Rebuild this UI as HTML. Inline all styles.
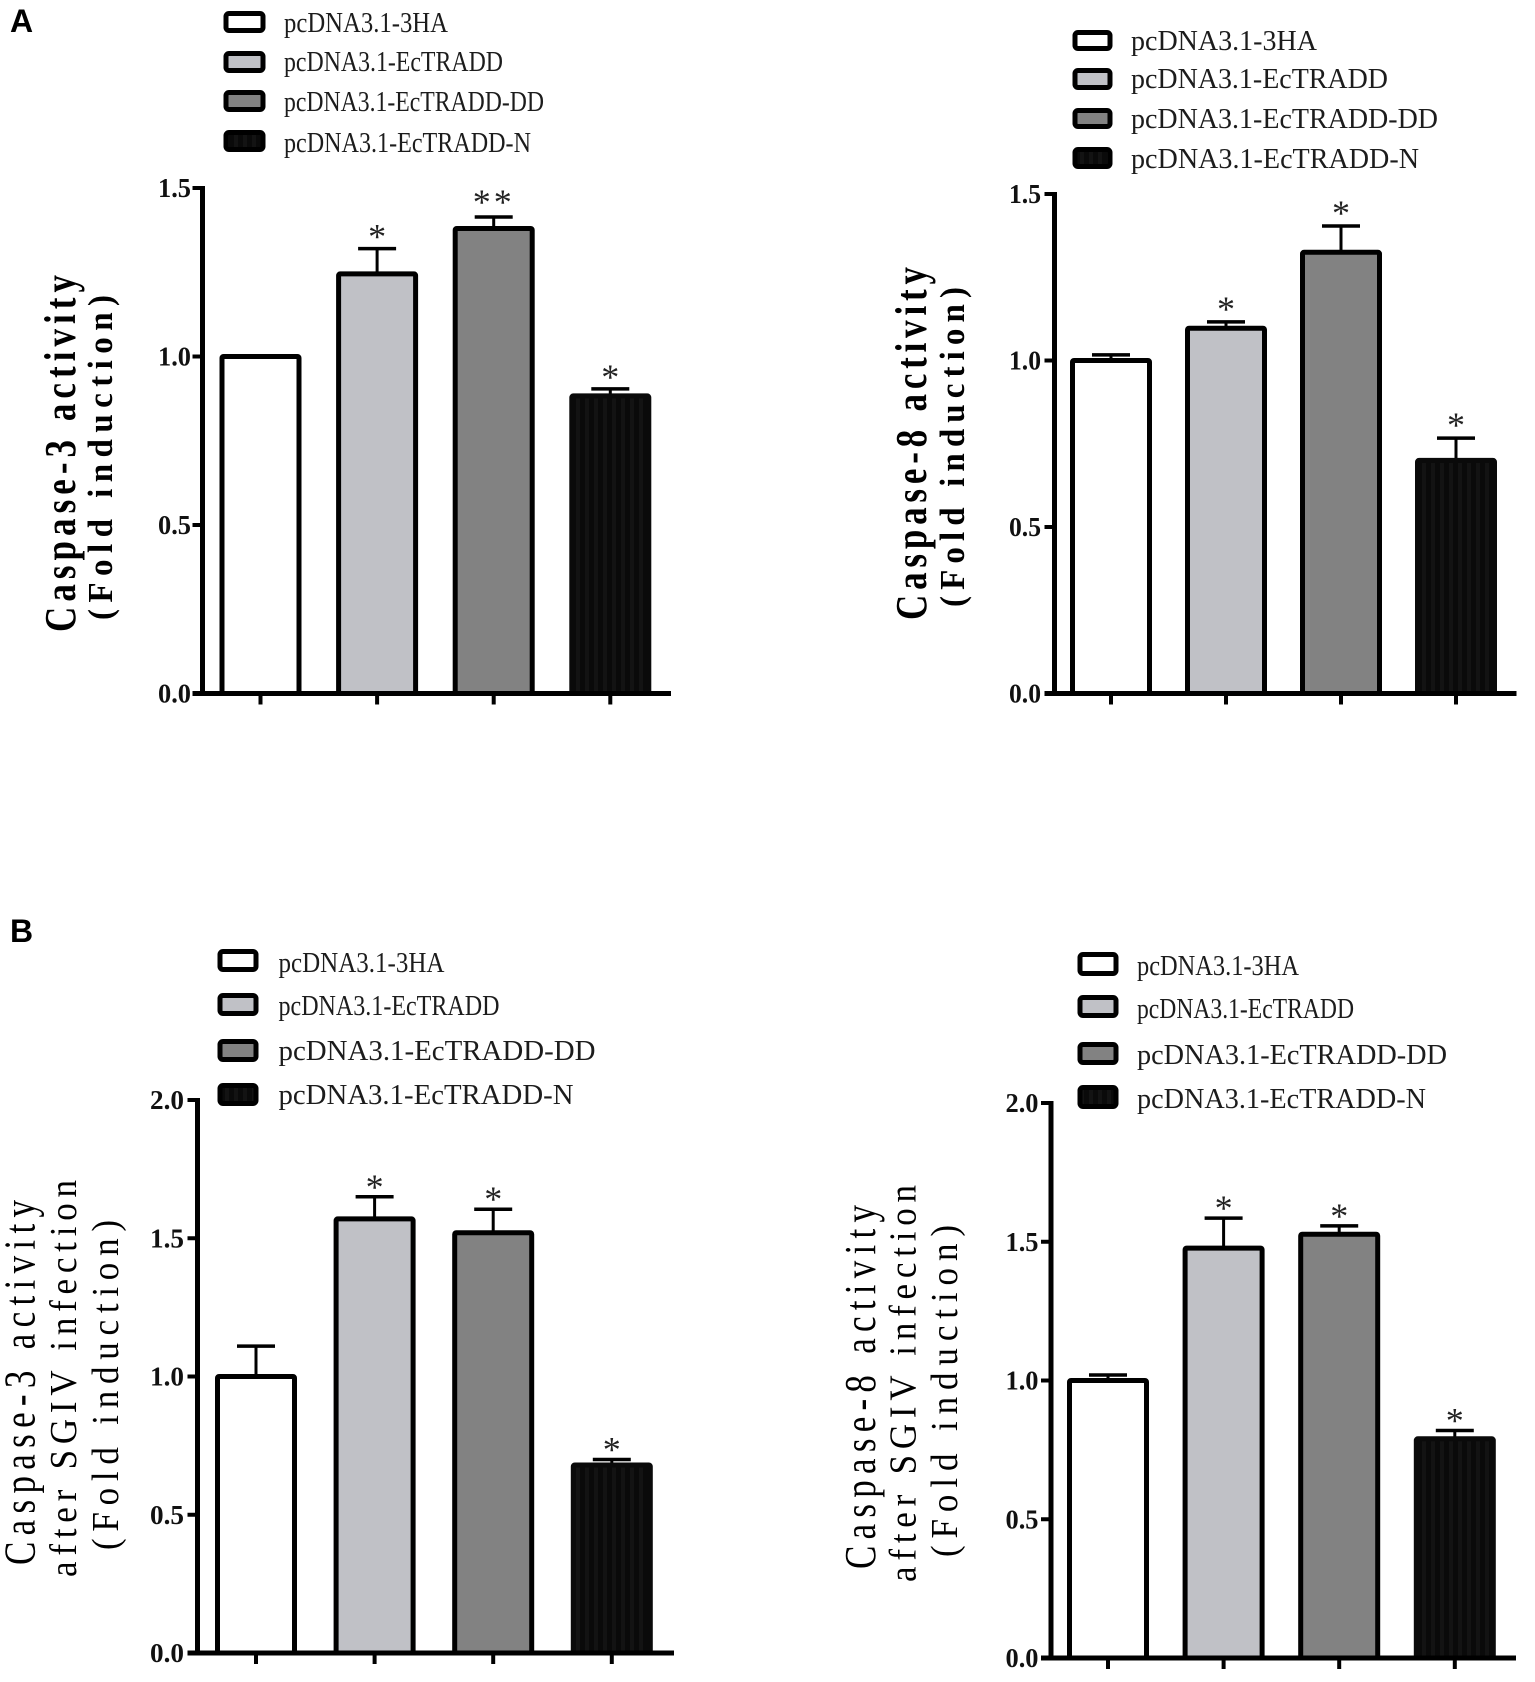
<!DOCTYPE html>
<html lang="en">
<head>
<meta charset="utf-8">
<title>Caspase-3 and Caspase-8 activity</title>
<style>
html,body{margin:0;padding:0;background:#fff;width:1535px;height:1682px;overflow:hidden}
svg{display:block}
text{font-family:"Liberation Serif",serif;fill:#000}
.leg{font-size:29px;fill:#1c1c1c}
.t1{font-size:35px}
.t2{font-size:33px}
.t3{font-size:35px}
.b{font-weight:bold}
.panel{font-family:"Liberation Sans",sans-serif;font-size:32px;font-weight:bold}
.tick{font-size:27px;font-weight:bold;fill:#111}
.star{font-size:36px;fill:#222}
</style>
</head>
<body>
<svg id="figure" xmlns="http://www.w3.org/2000/svg" width="1535" height="1682" viewBox="0 0 1535 1682">
<defs>
<pattern id="stripes" width="9" height="10" patternUnits="userSpaceOnUse">
<rect width="9" height="10" fill="#0a0a0a"></rect>
<rect width="4" height="10" fill="#131313"></rect>
</pattern>
</defs>
<rect width="1535" height="1682" fill="#ffffff"></rect>

<text class="panel" x="10" y="32">A</text>
<text class="panel" x="10" y="942">B</text>

<g>
<rect x="226" y="13.500" width="37" height="17" rx="3" fill="#fff" stroke="#000" stroke-width="5"></rect>
<rect x="226" y="53.500" width="37" height="17" rx="3" fill="#c0c1c6" stroke="#000" stroke-width="5"></rect>
<rect x="226" y="92.500" width="37" height="17" rx="3" fill="#828282" stroke="#000" stroke-width="5"></rect>
<rect x="226" y="132.500" width="37" height="17" rx="3" fill="url(#stripes)" stroke="#000" stroke-width="5"></rect>
<text class="leg" x="284" y="32" textLength="164" lengthAdjust="spacingAndGlyphs">pcDNA3.1-3HA</text>
<text class="leg" x="284" y="71" textLength="219" lengthAdjust="spacingAndGlyphs">pcDNA3.1-EcTRADD</text>
<text class="leg" x="284" y="111" textLength="260" lengthAdjust="spacingAndGlyphs">pcDNA3.1-EcTRADD-DD</text>
<text class="leg" x="284" y="152" textLength="247" lengthAdjust="spacingAndGlyphs">pcDNA3.1-EcTRADD-N</text>
</g>

<g>
<rect x="1075" y="32.500" width="35" height="16" rx="3" fill="#fff" stroke="#000" stroke-width="5"></rect>
<rect x="1075" y="70.500" width="35" height="17" rx="3" fill="#c0c1c6" stroke="#000" stroke-width="5"></rect>
<rect x="1075" y="110.500" width="35" height="16" rx="3" fill="#828282" stroke="#000" stroke-width="5"></rect>
<rect x="1075" y="149.500" width="35" height="17" rx="3" fill="url(#stripes)" stroke="#000" stroke-width="5"></rect>
<text class="leg" x="1131" y="50" textLength="186" lengthAdjust="spacingAndGlyphs">pcDNA3.1-3HA</text>
<text class="leg" x="1131" y="88" textLength="257" lengthAdjust="spacingAndGlyphs">pcDNA3.1-EcTRADD</text>
<text class="leg" x="1131" y="128" textLength="307" lengthAdjust="spacingAndGlyphs">pcDNA3.1-EcTRADD-DD</text>
<text class="leg" x="1131" y="168" textLength="288" lengthAdjust="spacingAndGlyphs">pcDNA3.1-EcTRADD-N</text>
</g>

<g>
<rect x="220" y="951.500" width="36" height="18" rx="3" fill="#fff" stroke="#000" stroke-width="5"></rect>
<rect x="220" y="995.500" width="36" height="18" rx="3" fill="#c0c1c6" stroke="#000" stroke-width="5"></rect>
<rect x="220" y="1041.500" width="36" height="18" rx="3" fill="#828282" stroke="#000" stroke-width="5"></rect>
<rect x="220" y="1085.500" width="36" height="18" rx="3" fill="url(#stripes)" stroke="#000" stroke-width="5"></rect>
<text class="leg" x="278.500" y="972" textLength="166" lengthAdjust="spacingAndGlyphs">pcDNA3.1-3HA</text>
<text class="leg" x="278.500" y="1015" textLength="221" lengthAdjust="spacingAndGlyphs">pcDNA3.1-EcTRADD</text>
<text class="leg" x="278.500" y="1060" textLength="317" lengthAdjust="spacingAndGlyphs">pcDNA3.1-EcTRADD-DD</text>
<text class="leg" x="278.500" y="1104" textLength="295" lengthAdjust="spacingAndGlyphs">pcDNA3.1-EcTRADD-N</text>
</g>

<g>
<rect x="1080" y="954.500" width="36" height="19" rx="3" fill="#fff" stroke="#000" stroke-width="5"></rect>
<rect x="1080" y="997.500" width="36" height="18" rx="3" fill="#c0c1c6" stroke="#000" stroke-width="5"></rect>
<rect x="1080" y="1044.500" width="36" height="18" rx="3" fill="#828282" stroke="#000" stroke-width="5"></rect>
<rect x="1080" y="1087.500" width="36" height="19" rx="3" fill="url(#stripes)" stroke="#000" stroke-width="5"></rect>
<text class="leg" x="1137" y="975" textLength="162" lengthAdjust="spacingAndGlyphs">pcDNA3.1-3HA</text>
<text class="leg" x="1137" y="1018" textLength="217" lengthAdjust="spacingAndGlyphs">pcDNA3.1-EcTRADD</text>
<text class="leg" x="1137" y="1064" textLength="310" lengthAdjust="spacingAndGlyphs">pcDNA3.1-EcTRADD-DD</text>
<text class="leg" x="1137" y="1108" textLength="289" lengthAdjust="spacingAndGlyphs">pcDNA3.1-EcTRADD-N</text>
</g>

<text class="t1 b" transform="translate(75,632) rotate(-90) scale(1,1.26)" textLength="357" lengthAdjust="spacing">Caspase-3 activity</text>
<text class="t2 b" transform="translate(112,620) rotate(-90) scale(1,1.06)" textLength="325" lengthAdjust="spacing">(Fold induction)</text>

<text class="t1 b" transform="translate(926,620) rotate(-90) scale(1,1.26)" textLength="353" lengthAdjust="spacing">Caspase-8 activity</text>
<text class="t2 b" transform="translate(964,607) rotate(-90) scale(1,1.06)" textLength="320" lengthAdjust="spacing">(Fold induction)</text>

<text class="t1" transform="translate(34.500,1565) rotate(-90) scale(1,1.26)" textLength="365" lengthAdjust="spacing">Caspase-3 activity</text>
<text class="t3" transform="translate(76,1577) rotate(-90) scale(1,1.08)" textLength="397" lengthAdjust="spacing">after SGIV infection</text>
<text class="t3" transform="translate(118,1550) rotate(-90) scale(1,1.08)" textLength="330" lengthAdjust="spacing">(Fold induction)</text>

<text class="t1" transform="translate(875,1569) rotate(-90) scale(1,1.26)" textLength="364" lengthAdjust="spacing">Caspase-8 activity</text>
<text class="t3" transform="translate(915.500,1582) rotate(-90) scale(1,1.08)" textLength="397" lengthAdjust="spacing">after SGIV infection</text>
<text class="t3" transform="translate(957,1557) rotate(-90) scale(1,1.08)" textLength="332" lengthAdjust="spacing">(Fold induction)</text>

<g id="charts"></g>
</svg>

<script>
// Categories shared by every chart
const categories = ["3ha", "ectradd", "ectradd-dd", "ectradd-n"];
const barFills = ["#ffffff", "#c0c1c6", "#828282", "url(#stripes)"];

// Axis ticks
const tickValuesA = [0, 0.5, 1.0, 1.5];
const tickLabelsA = ["0.0", "0.5", "1.0", "1.5"];
const tickValuesB = [0, 0.5, 1.0, 1.5, 2.0];
const tickLabelsB = ["0.0", "0.5", "1.0", "1.5", "2.0"];

// Panel A, caspase-3
const valuesA3 = [1.0, 1.245, 1.38, 0.883];
const errorsA3 = [0, 0.075, 0.034, 0.021];
const marksA3 = ["", "*", "**", "*"];

// Panel A, caspase-8
const valuesA8 = [1.0, 1.097, 1.325, 0.70];
const errorsA8 = [0.017, 0.019, 0.079, 0.067];
const marksA8 = ["", "*", "*", "*"];

// Panel B, caspase-3 after infection
const valuesB3 = [1.0, 1.57, 1.52, 0.68];
const errorsB3 = [0.11, 0.08, 0.085, 0.02];
const marksB3 = ["", "*", "*", "*"];

// Panel B, caspase-8 after infection
const valuesB8 = [1.0, 1.477, 1.527, 0.79];
const errorsB8 = [0.02, 0.108, 0.03, 0.03];
const marksB8 = ["", "*", "*", "*"];

const NS = "http://www.w3.org/2000/svg";
const root = document.getElementById("charts");

function make(tag, parent, attrs) {
  const el = document.createElementNS(NS, tag);
  for (const k in attrs) el.setAttribute(k, attrs[k]);
  parent.appendChild(el);
  return el;
}

function drawChart(name, plot, values, errors, marks, tickValues, tickLabels) {
  const yScale = v => plot.y0 - v * plot.pxPerUnit;
  const xScale = i => plot.x0 + i * plot.step;
  const top = tickValues[tickValues.length - 1];

  const g = make("g", root, {});
  
  

  values.forEach((v, i) => {
    const cx = xScale(i);
    const yv = yScale(v);
    const w = 77;
    if (errors[i] > 0) {
      const yc = yScale(v + errors[i]);
      const stem = make("line", g, { x1: cx, x2: cx, y1: yv, y2: yc, stroke: "#000", "stroke-width": 3 });
      
      
      const cap = make("line", g, { x1: cx - 19, x2: cx + 19, y1: yc, y2: yc, stroke: "#000", "stroke-width": 3.5 });
      
      
    }
    const bar = make("rect", g, {
      x: cx - w / 2, y: yv, width: w, height: plot.y0 - yv, rx: 1.5,
      fill: barFills[i],
      stroke: i === 3 ? "#0a0a0a" : "#000",
      "stroke-width": 5
    });
    
    
    if (marks[i]) {
      const yc = yScale(v + errors[i]);
      const extra = marks[i].length > 1 ? 3 : 0;
      const star = make("text", g, { class: "star", x: cx, y: yc - plot.starGap - extra + 17, "text-anchor": "middle" });
      if (marks[i].length > 1) star.setAttribute("letter-spacing", "3");
      star.textContent = marks[i];
      
      
    }
  });

  const yAxis = make("line", g, { x1: plot.axisX, x2: plot.axisX, y1: yScale(top) - 2, y2: plot.y0, stroke: "#000", "stroke-width": 5 });
  
  

  const xAxis = make("line", g, { x1: plot.axisX - 10, x2: plot.xEnd, y1: plot.y0, y2: plot.y0, stroke: "#000", "stroke-width": 5 });
  
  

  tickValues.forEach((t, i) => {
    const y = yScale(t);
    const mark = make("line", g, { x1: plot.axisX - 10, x2: plot.axisX, y1: y, y2: y, stroke: "#000", "stroke-width": 4 });
    
    
    const label = make("text", g, {
      class: "tick", x: plot.axisX - plot.labelGap, y: y + 9,
      textLength: plot.labelWidth, lengthAdjust: "spacingAndGlyphs"
    });
    label.textContent = tickLabels[i];
    
    
  });

  categories.forEach((c, i) => {
    const cx = xScale(i);
    const tick = make("line", g, { x1: cx, x2: cx, y1: plot.y0, y2: plot.y0 + 11, stroke: "#000", "stroke-width": 4 });
    
    
  });
}

drawChart("chart-a-caspase-3", { axisX: 202.5, y0: 693.5, pxPerUnit: 337, x0: 260.5, step: 116.6, xEnd: 671, labelGap: 44.5, labelWidth: 33, starGap: 17 },
  valuesA3, errorsA3, marksA3, tickValuesA, tickLabelsA);
drawChart("chart-a-caspase-8", { axisX: 1054.5, y0: 693.5, pxPerUnit: 333, x0: 1111, step: 115, xEnd: 1516.5, labelGap: 45.5, labelWidth: 32, starGap: 18 },
  valuesA8, errorsA8, marksA8, tickValuesA, tickLabelsA);
drawChart("chart-b-caspase-3", { axisX: 197.5, y0: 1653, pxPerUnit: 276.5, x0: 256, step: 118.6, xEnd: 674, labelGap: 47.5, labelWidth: 34, starGap: 15 },
  valuesB3, errorsB3, marksB3, tickValuesB, tickLabelsB);
drawChart("chart-b-caspase-8", { axisX: 1051, y0: 1658, pxPerUnit: 277.5, x0: 1108, step: 115.6, xEnd: 1516, labelGap: 45.5, labelWidth: 33, starGap: 15 },
  valuesB8, errorsB8, marksB8, tickValuesB, tickLabelsB);
</script>
</body>
</html>
